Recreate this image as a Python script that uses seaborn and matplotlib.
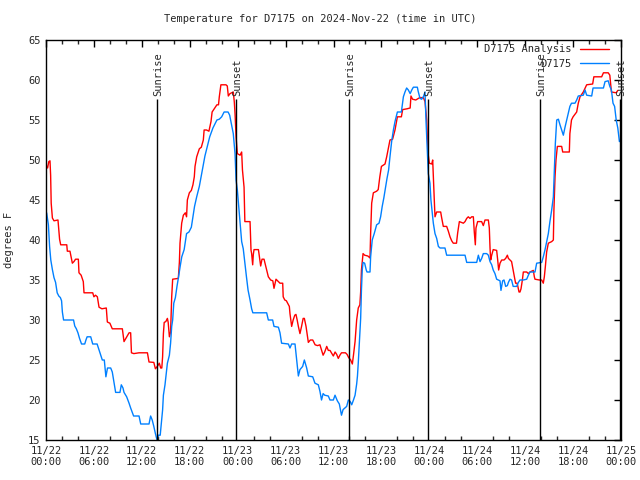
import matplotlib
matplotlib.use("Agg")
import matplotlib.pyplot as plt
import seaborn as sns
import pandas as pd
from matplotlib.ticker import MultipleLocator

# ---------------- data (hours since 2024-11-22 00:00 UTC) ----------------
analysis_hours = [0.0, 0.2, 0.35, 0.5, 0.58, 0.65, 0.8, 1.0, 1.5, 1.7, 1.84, 2.6, 2.67, 3.0, 3.3, 3.5, 3.7,
    4.05, 4.13, 4.4, 4.67, 4.76, 5.85, 6.0, 6.2, 6.43, 6.64, 7.0, 7.55, 7.68, 8.0, 8.3, 9.56, 9.77, 10.0,
    10.4, 10.6, 10.7, 11.0, 11.65, 12.7, 12.9, 13.5, 13.7, 13.94, 14.19, 14.36, 14.5, 14.6, 14.7, 14.8,
    15.0, 15.2, 15.3, 15.45, 15.6, 15.74, 15.86, 16.57, 16.7, 16.78, 16.99, 17.2, 17.45, 17.6, 17.7,
    17.95, 18.2, 18.4, 18.57, 18.66, 18.87, 19.2, 19.45, 19.7, 19.8, 20.1, 20.4, 20.66, 20.8, 21.4,
    21.6, 21.7, 21.9, 22.54, 22.7, 22.83, 23.04, 23.45, 23.58, 23.67, 23.8, 23.96, 24.3, 24.5, 24.6,
    24.8, 24.9, 25.55, 25.67, 25.75, 25.88, 25.96, 26.05, 26.6, 26.88, 27.05, 27.3, 27.42, 27.63,
    27.84, 28.13, 28.4, 28.55, 28.65, 28.8, 29.1, 29.3, 29.64, 29.7, 29.9, 30.1, 30.47, 30.55, 30.76,
    30.95, 31.15, 31.3, 31.45, 31.6, 31.8, 32.0, 32.2, 32.35, 32.56, 32.7, 32.85, 33.1, 33.4, 33.7,
    34.0, 34.3, 34.5, 34.7, 34.9, 35.15, 35.35, 35.56, 35.8, 35.98, 36.2, 36.4, 36.6, 36.8, 37.0,
    37.2, 37.5, 37.7, 37.9, 38.15, 38.36, 38.5, 38.7, 38.9, 39.1, 39.3, 39.4, 39.5, 39.7, 39.9, 40.3,
    40.57, 40.65, 40.78, 40.99, 41.4, 41.6, 41.8, 42.0, 42.45, 42.66, 43.07, 43.4, 43.7, 44.0, 44.5,
    44.66, 45.2, 45.6, 45.7, 45.9, 46.3, 46.8, 47.25, 47.46, 47.67, 47.75, 47.87, 48.0, 48.3, 48.42,
    48.5, 48.62, 48.71, 48.92, 49.42, 49.54, 49.75, 50.17, 50.38, 50.59, 50.8, 51.0, 51.4, 51.55,
    51.76, 52.26, 52.47, 52.68, 52.88, 53.09, 53.3, 53.51, 53.63, 53.76, 53.84, 54.05, 54.55, 54.76,
    54.97, 55.39, 55.51, 55.6, 55.68, 55.81, 56.0, 56.43, 56.56, 56.68, 56.85, 57.06, 57.35, 57.56,
    57.77, 57.9, 58.1, 58.3, 58.5, 58.65, 58.8, 59.0, 59.23, 59.35, 59.48, 59.65, 59.77, 60.19, 60.4,
    60.6, 61.02, 61.15, 61.23, 61.78, 62.07, 62.27, 62.4, 62.53, 62.69, 62.9, 63.32, 63.53, 63.6,
    63.74, 63.86, 64.03, 64.57, 64.7, 65.53, 65.6, 65.8, 66.0, 66.45, 66.65, 66.87, 67.28, 67.7,
    68.45, 68.6, 69.58, 69.8, 70.4, 70.6, 70.8, 71.4, 71.6]
analysis_temps = [49.4, 49.0, 49.8, 49.9, 48.1, 44.6, 42.75, 42.4, 42.5, 40.1, 39.4, 39.4, 38.6, 38.6, 37.1,
    37.3, 37.6, 37.6, 35.9, 35.6, 34.8, 33.4, 33.4, 32.9, 33.1, 32.9, 31.6, 31.4, 31.5, 29.75, 29.6,
    28.9, 28.9, 27.3, 27.7, 28.4, 28.4, 25.9, 25.8, 25.9, 25.9, 24.75, 24.7, 23.9, 24.2, 24.6, 24.0,
    24.0, 25.4, 28.3, 29.7, 29.8, 30.2, 29.7, 27.9, 28.5, 32.9, 35.1, 35.2, 37.2, 39.6, 42.1, 43.1,
    43.4, 42.9, 45.0, 45.9, 46.2, 46.9, 47.9, 49.2, 50.4, 51.4, 51.6, 52.5, 53.75, 53.75, 53.6, 54.8,
    56.0, 56.9, 56.9, 57.9, 59.4, 59.4, 59.25, 58.0, 58.3, 58.5, 57.25, 55.8, 52.9, 50.8, 50.6, 51.0,
    48.75, 46.6, 42.3, 42.3, 38.75, 38.3, 36.9, 38.2, 38.8, 38.8, 36.75, 37.6, 37.6, 37.1, 36.25,
    35.4, 35.0, 34.9, 33.96, 34.4, 35.1, 34.8, 34.6, 34.6, 32.9, 32.5, 32.4, 31.7, 30.8, 29.2, 30.0,
    30.6, 30.7, 30.0, 29.2, 28.3, 29.2, 30.2, 30.2, 29.2, 28.2, 27.2, 27.5, 27.5, 26.9, 26.8, 26.9,
    26.25, 25.6, 26.0, 26.7, 26.2, 26.2, 25.8, 25.5, 26.0, 25.7, 25.2, 25.6, 25.9, 25.9, 25.9, 25.7,
    25.3, 25.0, 24.5, 25.6, 27.3, 30.0, 31.5, 31.9, 33.5, 36.25, 38.3, 38.1, 38.0, 37.75, 40.8, 44.6,
    45.9, 46.1, 46.3, 47.9, 49.2, 49.5, 50.4, 52.5, 52.6, 53.75, 55.4, 55.4, 56.3, 56.4, 56.5, 58.0,
    57.6, 57.5, 57.8, 57.8, 57.3, 55.0, 52.9, 50.6, 49.6, 49.5, 50.0, 47.9, 45.0, 42.9, 43.5, 43.5,
    42.8, 41.7, 41.7, 41.1, 40.4, 39.9, 39.6, 39.6, 40.9, 42.3, 42.1, 42.3, 42.7, 42.9, 42.7, 42.9,
    42.9, 41.0, 39.4, 41.5, 42.3, 42.3, 41.8, 42.5, 42.5, 41.5, 39.0, 37.5, 38.1, 38.8, 38.7, 37.5,
    36.25, 37.1, 37.5, 37.5, 37.7, 38.1, 37.7, 37.5, 37.3, 36.25, 35.4, 34.6, 34.6, 33.5, 33.5, 33.9,
    35.0, 36.0, 36.0, 35.8, 36.0, 36.2, 35.4, 35.1, 35.0, 35.0, 34.6, 35.4, 36.7, 38.5, 39.6, 39.8,
    40.0, 43.75, 47.9, 50.0, 51.7, 51.7, 51.0, 51.0, 53.3, 55.0, 55.4, 56.0, 57.1, 57.9, 58.5, 59.4,
    59.5, 60.4, 60.4, 60.9, 60.9, 60.6, 58.5, 58.4, 58.7]

station_hours = [0.08, 0.3, 0.45, 0.6, 0.8, 1.0, 1.2, 1.4, 1.6, 1.8, 1.95, 2.05, 2.2, 3.45, 3.6, 3.8, 4.0,
    4.2, 4.45, 4.85, 5.0, 5.15, 5.6, 5.85, 6.4, 6.64, 6.85, 7.05, 7.3, 7.5, 7.7, 8.1, 8.3, 8.5, 8.72,
    9.26, 9.43, 9.64, 9.77, 10.1, 10.4, 10.6, 10.97, 11.65, 11.86, 12.9, 13.1, 13.3, 13.5, 13.7, 13.9,
    14.05, 14.3, 14.45, 14.6, 14.7, 14.9, 15.05, 15.2, 15.45, 15.6, 15.74, 15.86, 16.0, 16.2, 16.4,
    16.6, 16.8, 17.0, 17.3, 17.6, 17.9, 18.2, 18.4, 18.6, 18.87, 19.2, 19.5, 19.7, 19.9, 20.2, 20.5,
    20.9, 21.2, 21.4, 21.7, 22.0, 22.3, 22.8, 23.0, 23.2, 23.45, 23.67, 23.8, 23.96, 24.1, 24.3, 24.5,
    24.7, 24.9, 25.1, 25.3, 25.55, 25.75, 25.9, 27.63, 27.84, 28.38, 28.55, 29.1, 29.3, 29.5, 30.35,
    30.55, 30.76, 31.18, 31.39, 31.6, 31.8, 32.14, 32.35, 32.64, 32.85, 33.4, 33.68, 34.1, 34.3, 34.5,
    34.7, 34.9, 35.35, 35.56, 35.98, 36.19, 36.48, 36.73, 37.0, 37.2, 37.65, 37.86, 38.1, 38.28, 38.5,
    38.7, 38.9, 39.0, 39.1, 39.24, 39.4, 39.5, 39.6, 39.7, 39.9, 40.1, 40.2, 40.57, 40.65, 40.85, 41.1,
    41.4, 41.7, 41.9, 42.1, 42.3, 42.5, 42.7, 42.9, 43.07, 43.28, 43.5, 43.7, 44.0, 44.5, 44.75, 44.95,
    45.16, 45.37, 45.6, 45.8, 46.0, 46.5, 46.6, 46.83, 47.04, 47.25, 47.46, 47.58, 47.67, 47.79, 47.87,
    48.08, 48.2, 48.33, 48.5, 48.71, 48.92, 49.13, 49.34, 49.96, 50.17, 52.47, 52.68, 53.93, 54.14,
    54.35, 54.55, 54.76, 55.18, 55.39, 55.6, 55.81, 56.0, 56.22, 56.43, 56.85, 56.97, 57.18, 57.35,
    57.56, 57.77, 57.9, 58.1, 58.3, 58.5, 58.94, 59.15, 59.35, 59.77, 60.19, 60.4, 60.6, 61.23, 61.44,
    62.07, 62.27, 62.48, 62.69, 62.9, 63.1, 63.32, 63.53, 63.65, 63.78, 63.95, 64.16, 64.36, 64.57,
    64.78, 64.99, 65.2, 65.4, 65.6, 65.8, 66.24, 66.45, 66.65, 67.28, 67.5, 67.7, 68.33, 68.5, 69.8,
    70.0, 70.4, 70.6, 70.8, 71.0, 71.2, 71.4, 71.6, 71.8, 71.95]
station_temps = [43.4, 41.9, 39.2, 37.5, 36.3, 35.3, 34.7, 33.4, 33.0, 32.8, 32.4, 31.0, 30.0, 30.0, 29.25,
    28.9, 28.4, 27.7, 27.0, 27.0, 27.5, 27.9, 27.9, 27.0, 27.0, 26.25, 25.6, 25.0, 25.0, 22.9, 24.0,
    24.0, 23.5, 22.3, 20.95, 20.95, 21.9, 21.5, 20.95, 20.4, 19.6, 19.0, 18.0, 18.0, 17.0, 17.0, 18.0,
    17.5, 16.7, 15.8, 15.0, 15.6, 15.6, 17.2, 18.75, 20.6, 21.9, 23.3, 24.6, 25.6, 27.1, 29.2, 30.0,
    32.1, 32.8, 34.2, 35.4, 36.7, 37.9, 38.8, 40.8, 41.0, 41.6, 42.9, 44.2, 45.4, 46.7, 48.3, 49.4,
    50.5, 51.7, 52.9, 54.0, 54.6, 55.0, 55.1, 55.4, 56.0, 56.0, 55.6, 54.6, 53.3, 50.8, 47.5, 46.25,
    44.6, 42.1, 39.8, 38.9, 37.1, 35.4, 33.75, 32.5, 31.4, 30.9, 30.9, 30.0, 30.0, 29.2, 29.1, 28.4,
    27.1, 27.0, 26.5, 27.0, 27.0, 25.0, 23.0, 23.8, 24.2, 25.0, 24.0, 23.0, 22.9, 22.1, 21.9, 21.1,
    20.0, 20.8, 20.6, 20.5, 20.0, 20.0, 20.6, 19.9, 19.5, 18.1, 18.8, 19.2, 20.0, 19.8, 19.4, 20.0,
    20.6, 22.0, 23.0, 24.6, 27.1, 30.2, 33.75, 36.25, 37.2, 37.1, 36.25, 36.0, 36.0, 37.9, 40.0, 40.8,
    41.9, 42.1, 42.9, 44.2, 45.25, 46.5, 47.7, 48.75, 50.4, 52.3, 53.75, 54.8, 56.0, 56.0, 57.9, 58.5,
    59.0, 58.75, 58.3, 58.75, 59.1, 59.1, 58.6, 57.7, 57.6, 57.9, 58.5, 55.0, 52.9, 50.0, 48.3, 47.1,
    45.0, 43.75, 42.1, 40.8, 40.2, 39.2, 39.0, 39.0, 38.1, 38.1, 37.2, 37.2, 38.1, 37.3, 37.7, 38.3,
    38.3, 38.1, 37.3, 36.9, 36.25, 35.8, 35.1, 34.9, 33.7, 34.9, 35.0, 34.2, 34.3, 34.7, 35.1, 35.0,
    34.2, 34.2, 34.7, 35.0, 35.0, 35.1, 35.6, 36.0, 36.0, 37.1, 37.2, 37.9, 38.75, 39.8, 40.8, 42.3,
    43.75, 45.4, 48.75, 52.1, 55.0, 55.1, 54.4, 53.75, 53.1, 54.1, 55.0, 55.8, 56.7, 57.1, 57.1, 57.5,
    58.0, 58.1, 58.75, 58.1, 58.0, 59.0, 59.0, 59.8, 59.9, 59.2, 58.75, 57.1, 56.7, 55.0, 54.0, 52.3,
    52.5]

sun_hours = [13.94, 23.8, 37.96, 47.85, 61.87, 71.85]
sun_labels = ["Sunrise", "Sunset", "Sunrise", "Sunset", "Sunrise", "Sunset"]
series_names = ["D7175 Analysis", "D7175"]
series_colors = ["#ff0000", "#0080ff"]
x_tick_hours = list(range(0, 73, 6))
x_tick_labels = ["11/22\n00:00", "11/22\n06:00", "11/22\n12:00", "11/22\n18:00",
                 "11/23\n00:00", "11/23\n06:00", "11/23\n12:00", "11/23\n18:00",
                 "11/24\n00:00", "11/24\n06:00", "11/24\n12:00", "11/24\n18:00",
                 "11/25\n00:00"]
y_ticks = list(range(15, 66, 5))
title = "Temperature for D7175 on 2024-Nov-22 (time in UTC)"

# ---------------- plotting ----------------
sns.set_style("white")
plt.rcParams["font.family"] = ["DejaVu Sans Mono"]
plt.rcParams["font.size"] = 7

fig = plt.figure(figsize=(6.4, 4.8), dpi=100)
ax = fig.add_axes([46 / 640, 1 - 440 / 480, 575 / 640, 400 / 480])

df_a = pd.DataFrame({"hours": analysis_hours, "temp": analysis_temps})
df_s = pd.DataFrame({"hours": station_hours, "temp": station_temps})
sns.lineplot(data=df_a, x="hours", y="temp", ax=ax, color=series_colors[0], lw=1,
             estimator=None, sort=False, label=series_names[0])
sns.lineplot(data=df_s, x="hours", y="temp", ax=ax, color=series_colors[1], lw=1,
             estimator=None, sort=False, label=series_names[1])

for h, lab in zip(sun_hours, sun_labels):
    ax.vlines(h, 15, 57.6, color="black", lw=1)
    ax.text(h + 0.15, 58.0, lab, rotation=90, ha="center", va="bottom", fontsize=7.5)

ax.set_xlim(0, 72)
ax.set_ylim(15, 65)
ax.set_xticks(x_tick_hours)
ax.set_xticklabels(x_tick_labels)
ax.xaxis.set_minor_locator(MultipleLocator(2))
ax.set_yticks(y_ticks)
ax.tick_params(axis="both", which="major", direction="in", length=5, width=1,
               top=True, right=True, labelsize=7.5, pad=4, color="black")
ax.tick_params(axis="x", which="minor", direction="in", length=3, width=1, top=True, bottom=True)
for sp in ax.spines.values():
    sp.set_color("black")
    sp.set_linewidth(1)

ax.set_xlabel("")
ax.set_ylabel("degrees F", fontsize=7.5, labelpad=10)

leg = ax.legend(loc="upper right", bbox_to_anchor=(0.992, 1.0075), frameon=False,
                markerfirst=False, handlelength=2.8, fontsize=7.5,
                borderaxespad=0.3, labelspacing=0.45, handletextpad=0.8)
for t in leg.get_texts():
    t.set_ha("right")

fig.text(0.5, 1 - 19 / 480, title, ha="center", va="center", fontsize=7.5)

fig.savefig("out.png", dpi=100)
